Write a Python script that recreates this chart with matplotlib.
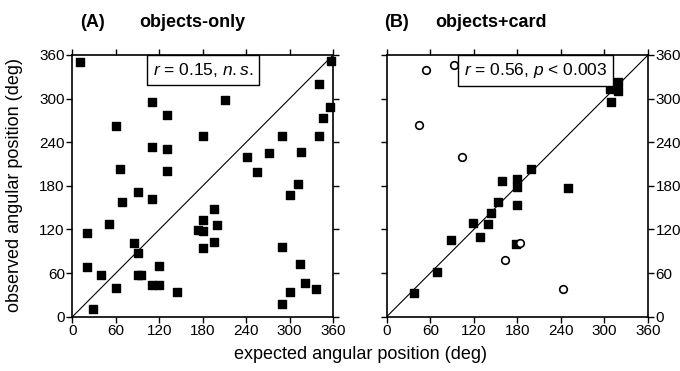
import matplotlib
matplotlib.use("Agg")
import matplotlib.pyplot as plt

plt.rcParams['font.family'] = ['Liberation Sans', 'DejaVu Sans']
plt.rcParams['mathtext.fontset'] = 'custom'
plt.rcParams['mathtext.rm'] = 'Liberation Sans'
plt.rcParams['mathtext.it'] = 'Liberation Sans:italic'

# panel A: objects-only
a_expected = [10, 110, 130, 60, 180, 110, 130, 65, 130, 90, 357, 341, 211, 356, 346,
              290, 341, 316, 241, 271, 255, 311, 69, 110, 50, 20, 195, 180, 199, 174,
              180, 195, 180, 85, 90, 20, 40, 90, 95, 120, 110, 120, 60, 144, 29, 301,
              290, 315, 321, 336, 301, 290]
a_observed = [350, 296, 278, 262, 248, 234, 230, 203, 200, 172, 352, 320, 298, 288, 273,
              248, 248, 227, 220, 225, 199, 183, 158, 162, 128, 115, 148, 133, 126, 119,
              118, 103, 94, 101, 88, 68, 58, 58, 58, 70, 43, 44, 40, 34, 11, 167,
              96, 72, 47, 38, 34, 18]

# panel B: objects+card, filled = included, open = outliers
b_expected = [159, 179, 179, 199, 319, 308, 319, 309, 250, 153, 179, 144, 119, 139,
              129, 89, 178, 69, 38]
b_observed = [187, 190, 178, 203, 323, 313, 311, 295, 177, 158, 153, 142, 129, 127,
              109, 105, 100, 61, 32]
b_out_expected = [54, 93, 44, 104, 243, 184, 163]
b_out_observed = [340, 346, 264, 219, 38, 101, 78]

ticks = [0, 60, 120, 180, 240, 300, 360]

fig = plt.figure(figsize=(6.8, 3.71), dpi=100)
axA = fig.add_axes([0.1066, 0.1464, 0.3832, 0.7054])
axB = fig.add_axes([0.5687, 0.1464, 0.3843, 0.7054])

for ax in (axA, axB):
    ax.set_xlim(0, 360)
    ax.set_ylim(0, 360)
    ax.set_xticks(ticks)
    ax.set_yticks(ticks)
    ax.plot([0, 360], [0, 360], color='black', lw=0.8, zorder=1)
    for s in ax.spines.values():
        s.set_linewidth(1.2)
    ax.tick_params(direction='out', length=4, width=1, labelsize=11,
                   top=True, right=True, pad=1.5)

axA.tick_params(labelright=False)
axB.tick_params(labelleft=False, labelright=True)

axA.scatter(a_expected, a_observed, marker='s', s=26, color='black', zorder=3,
            clip_on=False)
axB.scatter(b_expected, b_observed, marker='s', s=26, color='black', zorder=3,
            clip_on=False)
axB.scatter(b_out_expected, b_out_observed, marker='o', s=30, facecolors='white',
            edgecolors='black', linewidths=1.2, zorder=3, clip_on=False)

box = dict(boxstyle='square,pad=0.35', facecolor='white', edgecolor='black', lw=1.0)
axA.text(180, 339, r'$r$ = 0.15, $n.s.$', ha='center', va='center', fontsize=12.5,
         bbox=box, zorder=4)
axB.text(205, 339, r'$r$ = 0.56, $p$ < 0.003', ha='center', va='center', fontsize=12.5,
         bbox=box, zorder=4)

fig.text(0.118, 0.94, '(A)', fontsize=13, fontweight='bold', ha='left', va='center')
fig.text(0.205, 0.94, 'objects-only', fontsize=13, fontweight='bold', ha='left', va='center')
fig.text(0.565, 0.94, '(B)', fontsize=13, fontweight='bold', ha='left', va='center')
fig.text(0.64, 0.94, 'objects+card', fontsize=13, fontweight='bold', ha='left', va='center')

fig.text(0.53, 0.045, 'expected angular position (deg)', fontsize=13, ha='center', va='center')
fig.text(0.022, 0.5, 'observed angular position (deg)', fontsize=13, ha='center',
         va='center', rotation=90)

fig.savefig('out.png', dpi=100)
